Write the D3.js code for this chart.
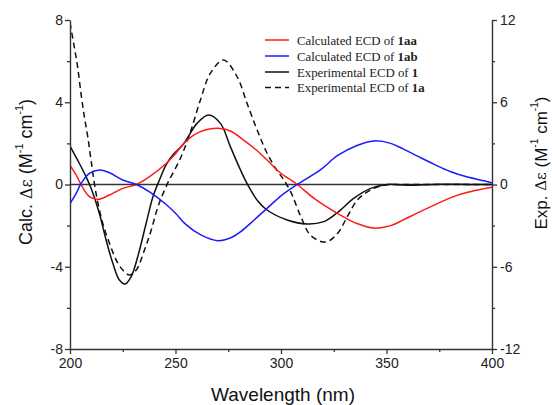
<!DOCTYPE html>
<html><head><meta charset="utf-8">
<script src="https://cdn.jsdelivr.net/npm/d3@7"></script>
<style>body{margin:0;background:#fff}svg{display:block}</style>
</head><body><svg id="c" width="552" height="405"></svg>
<script>
// ---- data ----
const xTicks = [200, 250, 300, 350, 400];
const leftTicks = [8, 4, 0, -4, -8];
const rightTicks = [12, 6, 0, -6, -12];
const legendLabels = ["Calculated ECD of ", "Calculated ECD of ", "Experimental ECD of ", "Experimental ECD of "];
const legendBold = ["1aa", "1ab", "1", "1a"];

const wl1aa = [200,203,205.2,209.2,213.5,218.7,225,231.5,237.7,245.3,250,254,258.6,264,270,276,282.3,288,293.4,299,307.7,316,326.7,336,344,352,358,364.7,372.6,380.5,388.4,396.3,400];
const calc1aa = [0.93,0.45,0.0,-0.59,-0.72,-0.51,-0.19,0,0.38,1.0,1.5,2.0,2.4,2.65,2.73,2.6,2.16,1.7,1.19,0.62,0,-0.7,-1.4,-1.9,-2.12,-2.0,-1.72,-1.38,-1.0,-0.64,-0.38,-0.2,-0.13];

const wl1ab = [200,203,205.2,209.2,213.9,218.7,225,231.5,237.7,245.3,250,255,262,270,276,280.8,287,293.4,300,307.7,318.8,326.7,336,344,352,358,364.7,372.6,380.5,388.4,396.3,400];
const calc1ab = [-0.93,-0.42,0.04,0.54,0.71,0.57,0.22,0,-0.36,-0.95,-1.4,-1.95,-2.45,-2.73,-2.6,-2.3,-1.75,-1.16,-0.55,0,0.72,1.4,1.9,2.12,2.0,1.72,1.38,0.98,0.62,0.36,0.18,0.09];

const wlExp1 = [200,204.4,207.6,210,213.9,217.1,220.3,223.4,226.1,229,232.1,236.1,239.3,242.4,245.6,249,253.8,260.2,265.7,271.3,276,280.8,284.7,289,293.4,302.9,312.4,320.3,326.7,334.6,342.5,350.4,360,375,390,400];
const exp1 = [2.8,1.55,0.57,-0.28,-2.1,-4.05,-5.75,-6.97,-7.26,-6.72,-5.27,-2.83,-0.89,0.33,1.45,2.2,2.95,4.46,5.07,4.46,2.76,1.06,-0.16,-1.2,-1.86,-2.59,-2.88,-2.71,-2.06,-1.0,-0.28,0,-0.05,0.02,0,0];

const wlExp1a = [200,202,203.6,205.2,206.8,208.4,210,212.4,215.5,218.7,222.7,225.8,228.2,231.4,235.3,238.5,241.7,246,252.3,257,261.8,266.5,272.8,279.2,283.9,288.7,293.4,298.2,300.6,304.5,309.3,314,321,326.7,331.4,336.2,342.5,349,360,380,400];
const exp1a = [11.8,10.05,8.6,6.65,4.95,3.5,1.75,-0.7,-2.83,-4.29,-5.75,-6.36,-6.6,-6.24,-4.78,-3.32,-1.62,0,1.9,3.8,6.16,8.1,9.08,7.86,5.92,3.97,2.28,1.0,0.5,-0.5,-2.3,-3.7,-4.2,-3.6,-2.35,-1.13,-0.4,-0.05,0,0,0];

// ---- layout ----
const svg = d3.select("#c");
const X0 = 70, X1 = 492, Y0 = 20, Y1 = 349;
const x = d3.scaleLinear().domain([200, 400]).range([X0, X1]);
const yL = d3.scaleLinear().domain([-8, 8]).range([Y1, Y0]);
const yR = d3.scaleLinear().domain([-12, 12]).range([Y1, Y0]);
const axisCol = "#333";
const sans = "'Liberation Sans', Arial, sans-serif";
const serif = "'Liberation Serif', 'Times New Roman', serif";

// zero line
svg.append("line").attr("x1", X0).attr("x2", X1).attr("y1", yL(0)).attr("y2", yL(0))
  .attr("stroke", axisCol).attr("stroke-width", 1.6);

// curves
svg.append("clipPath").attr("id", "clip").append("rect").attr("x", X0).attr("y", Y0 - 2).attr("width", X1 - X0).attr("height", Y1 - Y0 + 2);
const g = svg.append("g").attr("clip-path", "url(#clip)");
function draw(wl, vals, ys, color, dash) {
  const line = d3.line().x((d, i) => x(wl[i])).y(d => ys(d)).curve(d3.curveCatmullRom.alpha(0.5));
  g.append("path").attr("d", line(vals)).attr("fill", "none").attr("stroke", color)
    .attr("stroke-width", 1.5).attr("stroke-dasharray", dash || null);
}
draw(wlExp1a, exp1a, yR, "#111", "6,4");
draw(wlExp1, exp1, yR, "#111");
draw(wl1aa, calc1aa, yL, "#ff1a1a");
draw(wl1ab, calc1ab, yL, "#1a1aff");

// axes
const axB = d3.axisBottom(x).tickValues(xTicks).tickSize(5).tickSizeOuter(0).tickFormat(d3.format("d"));
const gB = svg.append("g").attr("transform", `translate(0,${Y1})`).call(axB);
const axL = d3.axisLeft(yL).tickValues(leftTicks).tickSize(5).tickSizeOuter(0);
const gL = svg.append("g").attr("transform", `translate(${X0},0)`).call(axL);
const axR = d3.axisRight(yR).tickValues(rightTicks).tickSize(5).tickSizeOuter(0);
const gR = svg.append("g").attr("transform", `translate(${X1},0)`).call(axR);
// minor ticks
const gBm = svg.append("g").attr("transform", `translate(0,${Y1})`)
  .call(d3.axisBottom(x).tickValues([225, 275, 325, 375]).tickSize(3).tickFormat(""));
const gLm = svg.append("g").attr("transform", `translate(${X0},0)`)
  .call(d3.axisLeft(yL).tickValues([6, 2, -2, -6]).tickSize(3).tickFormat(""));
const gRm = svg.append("g").attr("transform", `translate(${X1},0)`)
  .call(d3.axisRight(yR).tickValues([9, 3, -3, -9]).tickSize(3).tickFormat(""));
[gB, gL, gR, gBm, gLm, gRm].forEach(a => {
  a.selectAll("path").attr("stroke", axisCol).attr("stroke-width", 1.4);
  a.selectAll("line").attr("stroke", axisCol).attr("stroke-width", 1.3);
  a.selectAll("text").attr("fill", "#222").attr("font-family", sans).attr("font-size", 14);
});
gBm.select("path").remove(); gLm.select("path").remove(); gRm.select("path").remove();
gB.selectAll("text").attr("dy", "0.95em").attr("y", 6);
gL.selectAll("text").attr("x", -7);
gR.selectAll("text").attr("x", 8);
svg.selectAll(".tick text").text(function(){ return this.textContent.replace("\u2212", "-"); });

// axis titles
svg.append("text").attr("x", 283).attr("y", 401).attr("text-anchor", "middle")
  .attr("font-family", sans).attr("font-size", 19).attr("fill", "#111").text("Wavelength (nm)");

function yTitle(cx, cy, label, fs) {
  const t = svg.append("text").attr("transform", `translate(${cx},${cy}) rotate(-90)`)
    .attr("text-anchor", "middle").attr("dominant-baseline", "central")
    .attr("font-family", sans).attr("font-size", fs).attr("fill", "#111");
  t.append("tspan").text(label + " ");
  t.append("tspan").attr("font-family", "'DejaVu Serif', serif").attr("font-size", fs - 2).text("\u0394\u03b5");
  t.append("tspan").text(" (M");
  t.append("tspan").attr("font-size", fs * 0.6).attr("dy", -7).text("-1");
  t.append("tspan").attr("dy", 7).text(" cm");
  t.append("tspan").attr("font-size", fs * 0.6).attr("dy", -7).text("-1");
  t.append("tspan").attr("dy", 7).text(")");
}
yTitle(26, 172, "Calc.", 18);
yTitle(541, 163, "Exp.", 17);

// legend
const legColors = ["#ff1a1a", "#1a1aff", "#111", "#111"];
const legDash = [null, null, null, "6,4"];
const legY = [40, 56, 72, 87.5];
legendLabels.forEach((lab, i) => {
  svg.append("line").attr("x1", 265).attr("x2", 289).attr("y1", legY[i]).attr("y2", legY[i])
    .attr("stroke", legColors[i]).attr("stroke-width", 1.5).attr("stroke-dasharray", legDash[i]);
  const t = svg.append("text").attr("x", 297).attr("y", legY[i] + 4.5)
    .attr("font-family", serif).attr("font-size", 12.8).attr("fill", "#222");
  t.append("tspan").text(lab);
  t.append("tspan").attr("font-weight", "bold").text(legendBold[i]);
});
</script></body></html>
